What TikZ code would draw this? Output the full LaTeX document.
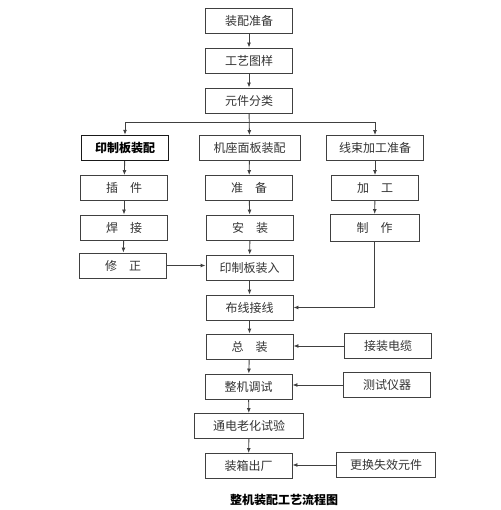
\documentclass[tikz,border=0pt]{standalone}
\usepackage{fontspec}
\newfontfamily\cjk{Noto Sans CJK SC}
\usetikzlibrary{arrows.meta}
\begin{document}
\begin{tikzpicture}[x=1pt, y=-1pt,
                    draw=black!75,
                    line width=0.9pt,
                    font=\cjk\fontsize{12}{14}\selectfont,
                    >={Latex[length=5pt,width=4pt]}]
    \tikzstyle{step box}=[rectangle,draw=black!75,text=black!80,minimum width=87pt,minimum height=25pt,inner sep=1pt]
    \tikzstyle{wide box}=[step box, minimum width=101pt];
    \tikzstyle{main box}=[step box, draw=black!90, text=black, line width=1.4pt, font=\cjk\bfseries\fontsize{12}{14}\selectfont];
    \tikzstyle{flow}=[->,draw=black!75];

    \useasboundingbox (0,0) rectangle (500,510);

    % main column
    \node[step box] (prep)   at (249,21)    {装配准备};
    \node[step box] (sheet)  at (249,60.5)  {工艺图样};
    \node[step box] (sort)   at (249,100.5) {元件分类};
    \coordinate (split) at (249,122);

    % three branches
    \node[main box] (pcb)    at (125,148)   {印制板装配};
    \node[wide box] (base)   at (249.5,148) {机座面板装配};
    \node[step box, minimum width=97pt] (harness) at (375,148) {线束加工准备};

    \node[step box] (insert) at (124,188)   {插　件};
    \node[step box] (solder) at (124,227.5) {焊　接};
    \node[step box] (fix)    at (123,265.5) {修　正};

    \node[step box] (ready)  at (249,188)   {准　备};
    \node[step box] (mount)  at (250,227.5) {安　装};
    \node[step box] (load)   at (249.5,267.5) {印制板装入};
    \node[step box] (route)  at (249.5,307.5) {布线接线};

    \node[step box] (proc)   at (375,188)   {加　工};
    \node[step box, minimum width=89pt, minimum height=27pt] (make) at (374.5,228) {制　作};

    % final assembly
    \node[step box] (final)  at (249.5,346.5) {总　装};
    \node[step box] (debug)  at (248.5,386.5) {整机调试};
    \node[step box, minimum width=109pt] (aging) at (249,426) {通电老化试验};
    \node[step box] (pack)   at (248.5,466) {装箱出厂};

    \node[step box] (cable)  at (388,346)   {接装电缆};
    \node[step box] (meter)  at (387,385)   {测试仪器};
    \node[step box, minimum width=99pt] (swap) at (386,465) {更换失效元件};

    \node[font=\cjk\bfseries\fontsize{12}{14}\selectfont] (title) at (284,500) {整机装配工艺流程图};

    \draw[flow] (prep) -- (sheet);
    \draw[flow] (sheet) -- (sort);
    \draw[flow] (sort) -- (base);
    \draw[flow] (split) -| (pcb);
    \draw[flow] (split) -| (harness);

    \draw[flow] (pcb) -- (insert);
    \draw[flow] (insert) -- (solder);
    \draw[flow] (solder) -- (fix);
    \draw[flow] (fix.east) -- (fix.east -| load.west);

    \draw[flow] (base) -- (ready);
    \draw[flow] (ready) -- (mount);
    \draw[flow] (mount) -- (load);
    \draw[flow] (load) -- (route);

    \draw[flow] (harness) -- (proc);
    \draw[flow] (proc) -- (make);
    \draw[flow] (make.south) |- (route.east);

    \draw[flow] (route) -- (final);
    \draw[flow] (final) -- (debug);
    \draw[flow] (debug) -- (aging);
    \draw[flow] (aging) -- (pack);

    \draw[flow] (cable.west) -- (cable.west -| final.east);
    \draw[flow] (meter.west) -- (meter.west -| debug.east);
    \draw[flow] (swap.west) -- (swap.west -| pack.east);
\end{tikzpicture}
\end{document}
